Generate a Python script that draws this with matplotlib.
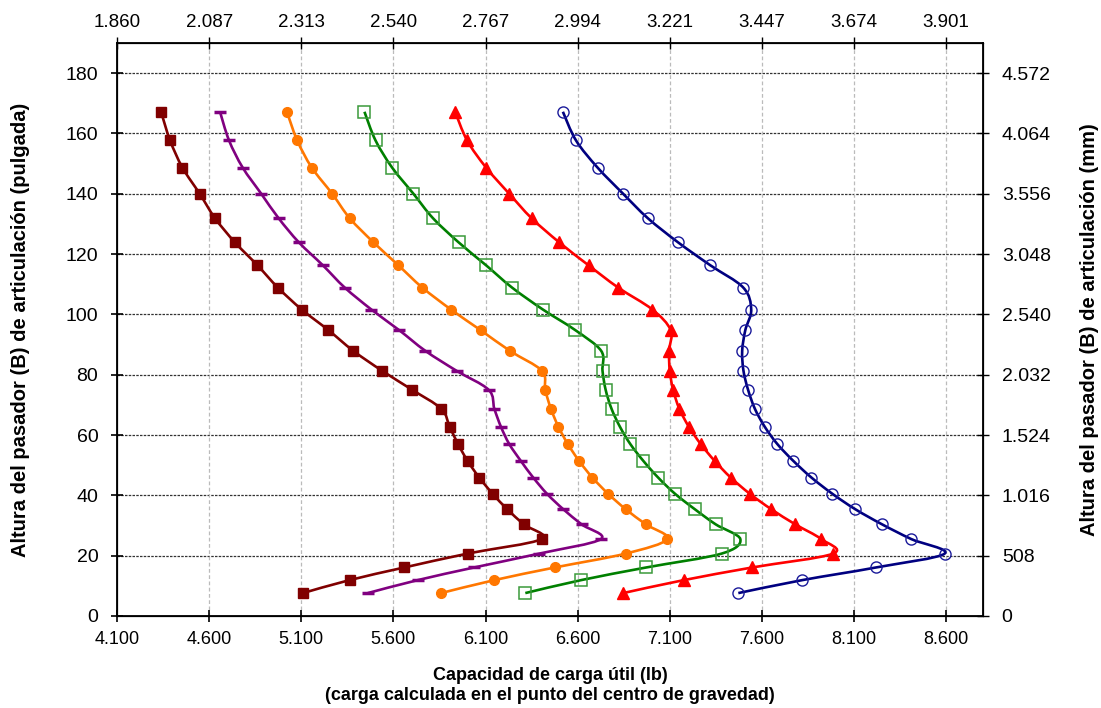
import numpy as np
import matplotlib
matplotlib.use("Agg")
import matplotlib.pyplot as plt
from matplotlib.path import Path
from matplotlib.patches import PathPatch

plt.rcParams['font.family'] = ['Liberation Sans', 'DejaVu Sans']

# pin height (inch), shared by all curves
pin_height = [167.2, 157.7, 148.7, 140.0, 131.9, 123.9, 116.3, 108.9, 101.6, 94.8,
              87.9, 81.3, 75.0, 68.7, 62.7, 57.0, 51.4, 45.9, 40.5, 35.4,
              30.4, 25.5, 20.7, 16.1, 11.9, 7.6]

# load capacity (lb, x1000 shown with dot separator)
cap_brown = [4.339, 4.388, 4.455, 4.549, 4.632, 4.740, 4.862, 4.973, 5.103, 5.247,
             5.383, 5.539, 5.702, 5.860, 5.906, 5.951, 6.003, 6.066, 6.139, 6.218,
             6.307, 6.404, 6.003, 5.660, 5.362, 5.109]
cap_purple = [4.659, 4.708, 4.782, 4.883, 4.977, 5.087, 5.217, 5.336, 5.481, 5.631,
              5.774, 5.943, 6.117, 6.148, 6.184, 6.229, 6.292, 6.359, 6.434, 6.522,
              6.621, 6.726, 6.392, 6.039, 5.732, 5.461]
cap_orange = [5.022, 5.078, 5.157, 5.268, 5.363, 5.492, 5.627, 5.757, 5.913, 6.073,
              6.233, 6.406, 6.424, 6.455, 6.496, 6.547, 6.608, 6.680, 6.766, 6.861,
              6.970, 7.087, 6.861, 6.477, 6.148, 5.859]
cap_green = [5.443, 5.503, 5.593, 5.709, 5.815, 5.954, 6.103, 6.244, 6.412, 6.587,
             6.728, 6.735, 6.752, 6.784, 6.830, 6.886, 6.957, 7.037, 7.129, 7.236,
             7.349, 7.483, 7.382, 6.973, 6.619, 6.316]
cap_red = [5.935, 6.000, 6.103, 6.229, 6.350, 6.500, 6.659, 6.820, 7.006, 7.105,
           7.096, 7.100, 7.118, 7.152, 7.204, 7.268, 7.344, 7.431, 7.535, 7.651,
           7.781, 7.922, 7.987, 7.548, 7.176, 6.847]
cap_blue = [6.520, 6.591, 6.708, 6.847, 6.981, 7.145, 7.320, 7.499, 7.542, 7.510,
            7.493, 7.500, 7.525, 7.562, 7.616, 7.684, 7.771, 7.869, 7.983, 8.107,
            8.252, 8.411, 8.592, 8.220, 7.819, 7.472]

x_ticks = [4.1, 4.6, 5.1, 5.6, 6.1, 6.6, 7.1, 7.6, 8.1, 8.6]
x_labels = ['4.100', '4.600', '5.100', '5.600', '6.100', '6.600', '7.100', '7.600', '8.100', '8.600']
top_labels = ['1.860', '2.087', '2.313', '2.540', '2.767', '2.994', '3.221', '3.447', '3.674', '3.901']
y_ticks = [0, 20, 40, 60, 80, 100, 120, 140, 160, 180]
right_labels = ['0', '508', '1.016', '1.524', '2.032', '2.540', '3.048', '3.556', '4.064', '4.572']


def smooth_path(x, y):
    # excel-like smoothed line: catmull-rom turned into cubic beziers
    p = np.column_stack([x, y])
    n = len(p)
    verts = [p[0]]
    codes = [Path.MOVETO]
    for i in range(n - 1):
        p0 = p[i - 1] if i > 0 else p[i]
        p1 = p[i]
        p2 = p[i + 1]
        p3 = p[i + 2] if i + 2 < n else p[i + 1]
        c1 = p1 + (p2 - p0) / 6.0
        c2 = p2 - (p3 - p1) / 6.0
        verts += [c1, c2, p2]
        codes += [Path.CURVE4] * 3
    return Path(verts, codes)


series = [
    (cap_brown, '#800000', dict(marker='s', ms=7, mfc='#800000', mec='#800000')),
    (cap_purple, '#800080', dict(marker='_', ms=8, mew=2.5, mec='#800080')),
    (cap_orange, '#FF7700', dict(marker='o', ms=7, mfc='#FF7700', mec='#FF7700')),
    (cap_green, '#008000', dict(marker='s', ms=8, mfc='none', mec='#3A9A3A', mew=1.1)),
    (cap_red, '#FF0000', dict(marker='^', ms=8, mfc='#FF0000', mec='#FF0000')),
    (cap_blue, '#000080', dict(marker='o', ms=8, mfc='none', mec='#1A1A9A', mew=1.0)),
]

fig = plt.figure(figsize=(11.01, 7.08), dpi=100)
ax = fig.add_axes([117 / 1101, 1 - 616 / 708, 866 / 1101, 573 / 708])

for y in y_ticks[1:]:
    ax.axhline(y, color='#333333', lw=0.9, ls=(0, (2, 1)), zorder=1)
for x in x_ticks[1:]:
    ax.axvline(x, color='#bbbbbb', lw=0.9, ls=(0, (3, 2)), zorder=1)

for cap, col, mk in series:
    ax.add_patch(PathPatch(smooth_path(cap, pin_height), fill=False, ec=col, lw=1.9, zorder=3))
    ax.plot(cap, pin_height, ls='none', zorder=4, **mk)

ax.set_xlim(4.1, 8.8)
ax.set_ylim(0, 190)
ax.set_xticks(x_ticks)
ax.set_xticklabels(x_labels, family=['Liberation Sans Narrow', 'Liberation Sans'], fontsize=13)
ax.set_yticks(y_ticks)
ax.tick_params(axis='y', labelsize=14, direction='inout', length=9, width=1.2, pad=9)
ax.tick_params(axis='x', direction='inout', length=9, width=1.2, pad=6)
for s in ax.spines.values():
    s.set_linewidth(1.3)

ax_top = ax.twiny()
ax_top.set_xlim(ax.get_xlim())
ax_top.set_xticks(x_ticks)
ax_top.set_xticklabels(top_labels, fontsize=13.5)
ax_top.tick_params(axis='x', direction='inout', length=9, width=1.0, pad=4)

ax_right = ax.twinx()
ax_right.set_ylim(ax.get_ylim())
ax_right.set_yticks(y_ticks)
ax_right.set_yticklabels(right_labels, fontsize=14)
ax_right.tick_params(axis='y', direction='inout', length=9, width=1.0, pad=9)

ax.set_ylabel('Altura del pasador (B) de articulación (pulgada)', fontsize=14.5,
              fontweight='bold')
ax.yaxis.set_label_coords(-0.101, 0.5)
ax_right.set_ylabel('Altura del pasador (B) de articulación (mm)', fontsize=14.5,
                    fontweight='bold')
ax_right.yaxis.set_label_coords(1.112, 0.5)
ax.set_xlabel('Capacidad de carga útil (lb)\n(carga calculada en el punto del centro de gravedad)',
              fontsize=13, fontweight='bold', labelpad=14, linespacing=1.2,
              family=['Liberation Sans Narrow', 'Liberation Sans'])

fig.savefig('out.png', dpi=100)
